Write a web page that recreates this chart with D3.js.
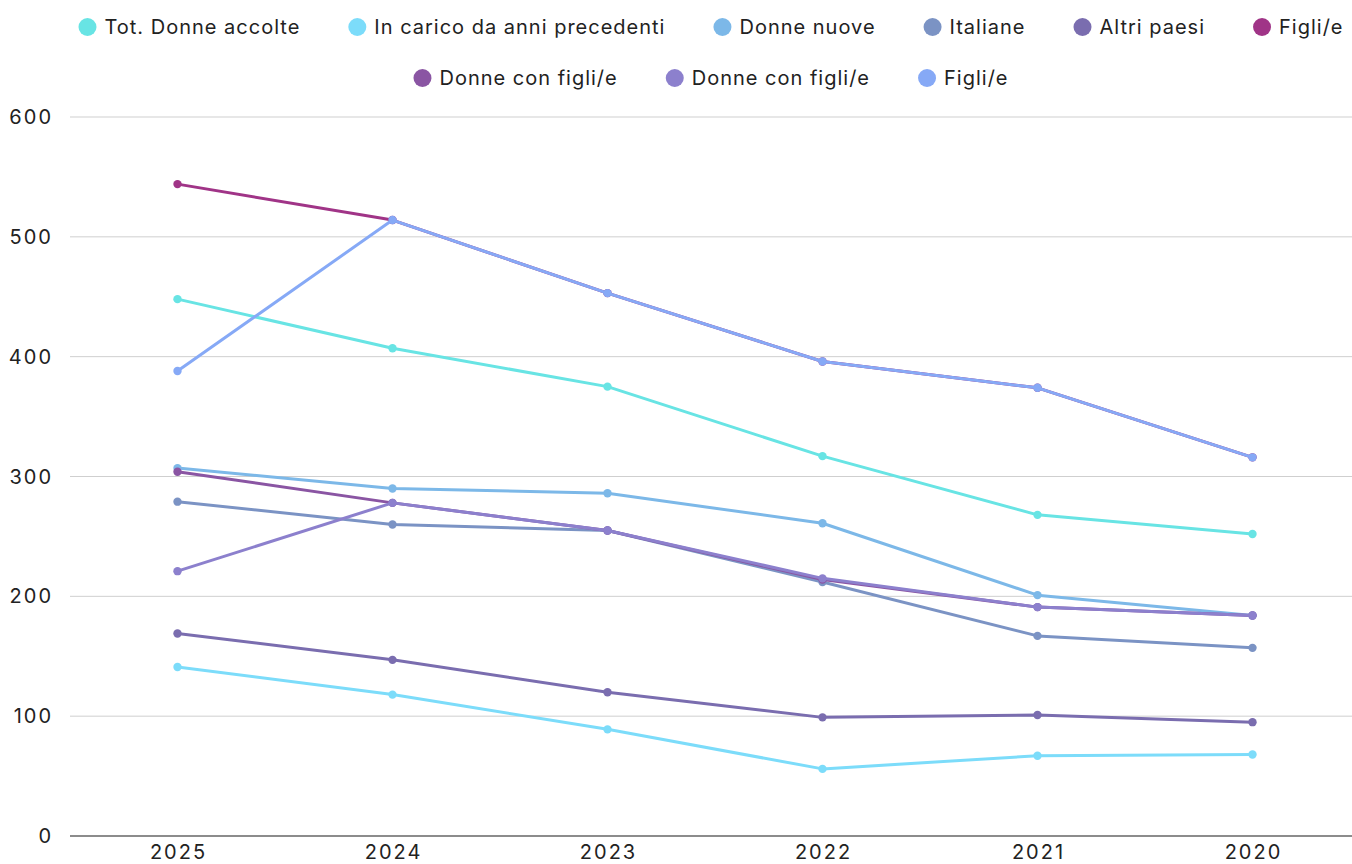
<!DOCTYPE html>
<html>
<head>
<meta charset="utf-8">
<script src="https://cdn.jsdelivr.net/npm/d3@7"></script>
<style>
  body { margin: 0; background: #fff; }
  svg { display: block; font-family: "Inter", "Liberation Sans", sans-serif; }
</style>
</head>
<body>
<div id="viz"></div>
<script>
// data
var years = ["2025", "2024", "2023", "2022", "2021", "2020"];
var seriesNames = ["Tot. Donne accolte", "In carico da anni precedenti", "Donne nuove", "Italiane", "Altri paesi", "Figli/e", "Donne con figli/e", "Donne con figli/e", "Figli/e"];
var seriesColors = ["#68e4e4", "#7cdcfa", "#7cb8e8", "#7b93c4", "#7a6daf", "#a03487", "#8a55a3", "#8c80cd", "#86a9f6"];
var totDonne    = [448, 407, 375, 317, 268, 252];
var inCarico    = [141, 118, 89, 56, 67, 68];
var donneNuove  = [307, 290, 286, 261, 201, 184];
var italiane    = [279, 260, 255, 212, 167, 157];
var altriPaesi  = [169, 147, 120, 99, 101, 95];
var figli1      = [544, 514, 453, 396, 374, 316];
var donneFigli1 = [304, 278, 255, 214, 191, 184];
var donneFigli2 = [221, 278, 255, 215, 191, 184];
var figli2      = [388, 514, 453, 396, 374, 316];
var yTicks = [0, 100, 200, 300, 400, 500, 600];

var seriesValues = [totDonne, inCarico, donneNuove, italiane, altriPaesi, figli1, donneFigli1, donneFigli2, figli2];
var series = seriesNames.map(function(n, i) {
  return { name: n, color: seriesColors[i], values: seriesValues[i] };
});

var width = 1352, height = 864;
var svg = d3.select("#viz").append("svg").attr("width", width).attr("height", height);

var x = d3.scalePoint().domain(years).range([70, 1360]).padding(0.5);
var y = d3.scaleLinear().domain([0, 600]).range([836, 117]);

// gridlines
svg.append("g")
  .selectAll("line")
  .data(yTicks)
  .enter()
  .append("line")
  .attr("x1", 70).attr("x2", width)
  .attr("y1", function(d) { return y(d); })
  .attr("y2", function(d) { return y(d); })
  .attr("stroke", function(d) { return d === 0 ? "#666" : "#cfcfcf"; })
  .attr("stroke-width", function(d) { return d === 0 ? 1.5 : 1; });

// y labels
svg.append("g")
  .selectAll("text")
  .data(yTicks)
  .enter()
  .append("text")
  .attr("x", 53)
  .attr("y", function(d) { return y(d); })
  .attr("dy", "0.35em")
  .attr("text-anchor", "end")
  .attr("font-size", 20)
  .attr("letter-spacing", 2)
  .attr("fill", "#222")
  .text(function(d) { return d; });

// x labels
svg.append("g")
  .selectAll("text")
  .data(years)
  .enter()
  .append("text")
  .attr("x", function(d) { return x(d) + 1; })
  .attr("y", 859)
  .attr("text-anchor", "middle")
  .attr("font-size", 20)
  .attr("letter-spacing", 2)
  .attr("fill", "#222")
  .text(function(d) { return d; });

// lines
var line = d3.line()
  .x(function(d, i) { return x(years[i]); })
  .y(function(d) { return y(d); });

var sg = svg.selectAll("g.series")
  .data(series)
  .enter()
  .append("g")
  .attr("class", "series");

sg.append("path")
  .attr("d", function(s) { return line(s.values); })
  .attr("fill", "none")
  .attr("stroke", function(s) { return s.color; })
  .attr("stroke-width", 3)
  .attr("stroke-linejoin", "round");

sg.selectAll("circle")
  .data(function(s) { return s.values.map(function(v, i) { return { v: v, year: years[i], color: s.color }; }); })
  .enter()
  .append("circle")
  .attr("cx", function(d) { return x(d.year); })
  .attr("cy", function(d) { return y(d.v); })
  .attr("r", 4.2)
  .attr("fill", function(d) { return d.color; });

// legend, wrapped and centred
var legend = svg.append("g");
var items = series.map(function(s) {
  var t = legend.append("text").attr("font-size", 20).attr("letter-spacing", 1).attr("fill", "#222").text(s.name);
  return { s: s, t: t, w: t.node().getComputedTextLength() + 26 };
});
var gap = 48, maxW = 1282, rows = [[]], rowW = [0];
items.forEach(function(it) {
  var r = rows.length - 1;
  var add = rows[r].length ? gap + it.w : it.w;
  if (rowW[r] + add > maxW && rows[r].length) {
    rows.push([it]); rowW.push(it.w);
  } else {
    rows[r].push(it); rowW[r] += add;
  }
});
var centre = (70 + width) / 2;
rows.forEach(function(row, ri) {
  var cy = 27 + ri * 51;
  var cx = centre - rowW[ri] / 2;
  row.forEach(function(it) {
    legend.append("circle").attr("cx", cx + 9).attr("cy", cy).attr("r", 9).attr("fill", it.s.color);
    it.t.attr("x", cx + 26).attr("y", cy).attr("dy", "0.35em");
    cx += it.w + gap;
  });
});
</script>
</body>
</html>
